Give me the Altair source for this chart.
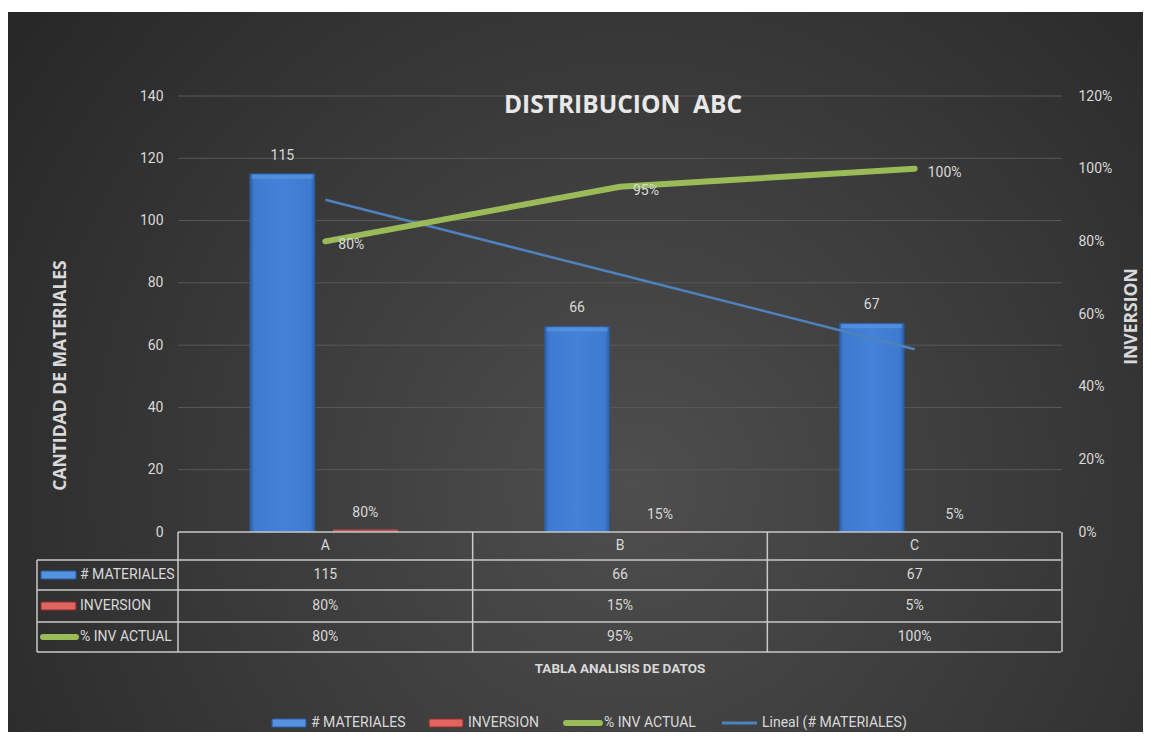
import altair as alt
import pandas as pd
import numpy as np

# ---------------- data ----------------
categories = ["A", "B", "C"]
materiales = [115, 66, 67]
inversion = [0.80, 0.15, 0.05]
inv_actual = [0.80, 0.95, 1.00]
row_labels = ["# MATERIALES", "INVERSION", "% INV ACTUAL"]
legend_labels = ["# MATERIALES", "INVERSION", "% INV ACTUAL", "Lineal (# MATERIALES)"]
left_ticks = [0, 20, 40, 60, 80, 100, 120, 140]
right_ticks = [0, 0.2, 0.4, 0.6, 0.8, 1.0, 1.2]
title_text = "DISTRIBUCION\u00a0 ABC"

# linear trend of # MATERIALES (Excel "Lineal")
idx = np.arange(1, len(categories) + 1)
slope, intercept = np.polyfit(idx, materiales, 1)
trend = list(intercept + slope * idx)

df = pd.DataFrame({
    "cat": categories,
    "materiales": materiales,
    "inversion": inversion,
    "inv_actual": inv_actual,
    "trend": trend,
})
df["mat_txt"] = [str(v) for v in materiales]
df["inv_txt"] = [f"{round(v * 100)}%" for v in inversion]
df["act_txt"] = [f"{round(v * 100)}%" for v in inv_actual]

one = pd.DataFrame({"k": [0]})
grid_df = pd.DataFrame({"v": left_ticks[1:]})

# ---------------- layout / style ----------------
W, H = 884, 436
PL, PT, PR, PB = 170, 88, 81, 200
FB = "Roboto"
FT = "Open Sans"
FS = 14
TXT = "#d9d9d9"
LINE = "#c8c8c8"
RED = "#c0504d"
GREEN = "#9bbb59"
TREND = "#4f81bd"
BAR_W = 65
BLUE_OFF, RED_OFF = -43, 40

bg_fill = {
    "gradient": "radial",
    "x1": 0.55, "y1": 0.6, "r1": 0,
    "x2": 0.55, "y2": 0.6, "r2": 0.75,
    "stops": [{"offset": 0, "color": "#4e4e4e"}, {"offset": 1, "color": "#232323"}],
}
bar_fill = {
    "gradient": "linear", "x1": 0, "y1": 0, "x2": 1, "y2": 0,
    "stops": [
        {"offset": 0, "color": "#2b5ea6"},
        {"offset": 0.07, "color": "#3e7bd0"},
        {"offset": 0.5, "color": "#4382d8"},
        {"offset": 0.93, "color": "#3e7bd0"},
        {"offset": 1, "color": "#2b5ea6"},
    ],
}

X = alt.X("cat:N", scale=alt.Scale(domain=categories, paddingInner=0, paddingOuter=0), axis=None)


def YL(field, axis=None):
    return alt.Y(f"{field}:Q", scale=alt.Scale(domain=[0, 140]), axis=axis)


base = alt.Chart(df)

background = alt.Chart(one).mark_rect(fill=bg_fill).encode(
    x=alt.value(-PL - 1), x2=alt.value(W + PR), y=alt.value(-84), y2=alt.value(H + PB)
)

grid = alt.Chart(grid_df).mark_rule(color="#595959", strokeWidth=1).encode(
    y=YL("v"), x=alt.value(0), x2=alt.value(W)
)

left_axis = alt.Axis(
    orient="left", values=left_ticks, grid=False, domain=False, ticks=False,
    labelPadding=15, labelFont=FB, labelFontSize=FS, labelColor=TXT, zindex=1,
    title="CANTIDAD DE MATERIALES", titleFont=FT, titleFontWeight="bold",
    titleFontSize=17.5, titleColor=TXT, titleX=-118, titleY=279, titleAngle=270,
    titleAlign="center", titleBaseline="middle",
)
blue_bars = base.mark_bar(width=BAR_W, xOffset=BLUE_OFF, fill=bar_fill,
                          stroke="#2a5a9e", strokeWidth=0.8).encode(
    x=X, y=YL("materiales", left_axis)
)
bevel = base.mark_tick(thickness=4, size=BAR_W - 4, xOffset=BLUE_OFF, yOffset=3,
                       color="#5896e2").encode(x=X, y=YL("materiales"))
red_bars = base.mark_bar(width=BAR_W, xOffset=RED_OFF, color=RED).encode(
    x=X, y=YL("inversion")
)
trend_line = base.mark_line(color=TREND, strokeWidth=2.5).encode(x=X, y=YL("trend"))

right_axis = alt.Axis(
    orient="right", values=right_ticks, format=".0%", grid=False, domain=False,
    ticks=False, labelPadding=16, labelFont=FB, labelFontSize=FS, labelColor=TXT,
    zindex=1, title="INVERSION", titleFont=FT, titleFontWeight="bold",
    titleFontSize=17.5, titleColor=TXT, titleX=69, titleY=220, titleAngle=270,
    titleAlign="center", titleBaseline="middle",
)
green_line = base.mark_line(color=GREEN, strokeWidth=6, strokeCap="round").encode(
    x=X, y=alt.Y("inv_actual:Q", scale=alt.Scale(domain=[0, 1.2]), axis=right_axis)
)

txt = dict(font=FB, fontSize=FS, color=TXT)
blue_lbl = base.mark_text(xOffset=BLUE_OFF, dy=-14, baseline="alphabetic", **txt).encode(
    x=X, y=YL("materiales"), text="mat_txt:N"
)
red_lbl = base.mark_text(xOffset=RED_OFF, dy=-13, baseline="alphabetic", **txt).encode(
    x=X, y=YL("inversion"), text="inv_txt:N"
)
green_lbl = base.mark_text(align="left", dx=13, dy=4, baseline="middle", **txt).encode(
    x=X, y=alt.Y("inv_actual:Q", scale=alt.Scale(domain=[0, 1.2]), axis=None),
    text="act_txt:N"
)

title = alt.Chart(one).mark_text(
    text=title_text, font=FT, fontWeight="bold", fontSize=24.5, color="#e8e8e8",
    baseline="middle", align="center"
).encode(x=alt.value(445), y=alt.value(10))

# ---------------- data table ----------------
row_y = [450, 479, 510, 541]
table_text = []
for field, yy in zip(["cat", "mat_txt", "inv_txt", "act_txt"], row_y):
    table_text.append(
        base.mark_text(baseline="middle", **txt).encode(x=X, y=alt.value(yy), text=f"{field}:N")
    )

SC = alt.Scale(domain=categories, paddingInner=0, paddingOuter=0)
table_rules = [
    base.mark_rule(color=LINE, strokeWidth=1.5).encode(
        x=alt.X("cat:N", bandPosition=0, scale=SC, axis=None),
        y=alt.value(436), y2=alt.value(556)),
    base.transform_filter(alt.datum.cat == categories[-1]).mark_rule(color=LINE, strokeWidth=1.5).encode(
        x=alt.X("cat:N", bandPosition=1, scale=SC, axis=None),
        y=alt.value(436), y2=alt.value(556)),
    alt.Chart(one).mark_rule(color=LINE, strokeWidth=1.5).encode(
        x=alt.value(-141), y=alt.value(464), y2=alt.value(556)),
    alt.Chart(one).mark_rule(color=LINE, strokeWidth=1.5).encode(
        x=alt.value(0), x2=alt.value(W - 1), y=alt.value(436)),
]
for yy in [464, 494, 526, 556]:
    table_rules.append(
        alt.Chart(one).mark_rule(color=LINE, strokeWidth=1.5).encode(
            x=alt.value(-141), x2=alt.value(W - 1), y=alt.value(yy))
    )

row_lbl_layers = []
for lab, yy in zip(row_labels, row_y[1:]):
    row_lbl_layers.append(
        alt.Chart(pd.DataFrame({"t": [lab]})).mark_text(align="left", baseline="middle", **txt).encode(
            x=alt.value(-98), y=alt.value(yy), text="t:N")
    )


def bar_swatch(x0, x1, yc, fill, stroke):
    return alt.Chart(one).mark_rect(fill=fill, stroke=stroke, strokeWidth=1.2, cornerRadius=1).encode(
        x=alt.value(x0), x2=alt.value(x1), y=alt.value(yc - 4), y2=alt.value(yc + 4))


def line_swatch(x0, x1, yc, color, width, cap="butt"):
    return alt.Chart(one).mark_rule(color=color, strokeWidth=width, strokeCap=cap).encode(
        x=alt.value(x0), x2=alt.value(x1), y=alt.value(yc))


swatches = [
    bar_swatch(-137, -102, row_y[1], "#5592e0", "#2b5ea6"),
    bar_swatch(-137, -102, row_y[2], "#e06560", "#8c2f2c"),
    line_swatch(-135, -102, row_y[3], GREEN, 6, "round"),
]

table_title = alt.Chart(one).mark_text(
    text="TABLA ANALISIS DE DATOS", font=FB, fontWeight="bold", fontSize=13.5, color=TXT,
    baseline="middle", align="center"
).encode(x=alt.value(W / 2), y=alt.value(573))

# ---------------- legend ----------------
LY = 627
leg_x = [133, 290, 426, 584]
legend_layers = [
    bar_swatch(94, 128, LY, "#5592e0", "#2b5ea6"),
    bar_swatch(251, 285, LY, "#e06560", "#8c2f2c"),
    line_swatch(388, 422, LY, GREEN, 6, "round"),
    line_swatch(544, 579, LY, TREND, 3),
]
for lab, xx in zip(legend_labels, leg_x):
    legend_layers.append(
        alt.Chart(pd.DataFrame({"t": [lab]})).mark_text(align="left", baseline="middle", **txt).encode(
            x=alt.value(xx), y=alt.value(LY), text="t:N")
    )

chart = alt.layer(
    background, grid, blue_bars, bevel, red_bars, trend_line, green_line,
    blue_lbl, red_lbl, green_lbl, title,
    *table_rules, *table_text, *row_lbl_layers, *swatches, table_title,
    *legend_layers,
).resolve_scale(y="independent").properties(
    width=W, height=H,
    autosize=alt.AutoSizeParams(type="none"),
    padding={"left": PL, "top": PT, "right": PR, "bottom": PB},
    background="white",
).configure_view(stroke=None)

chart.save("out.html", embed_options={"renderer": "svg", "actions": False})
